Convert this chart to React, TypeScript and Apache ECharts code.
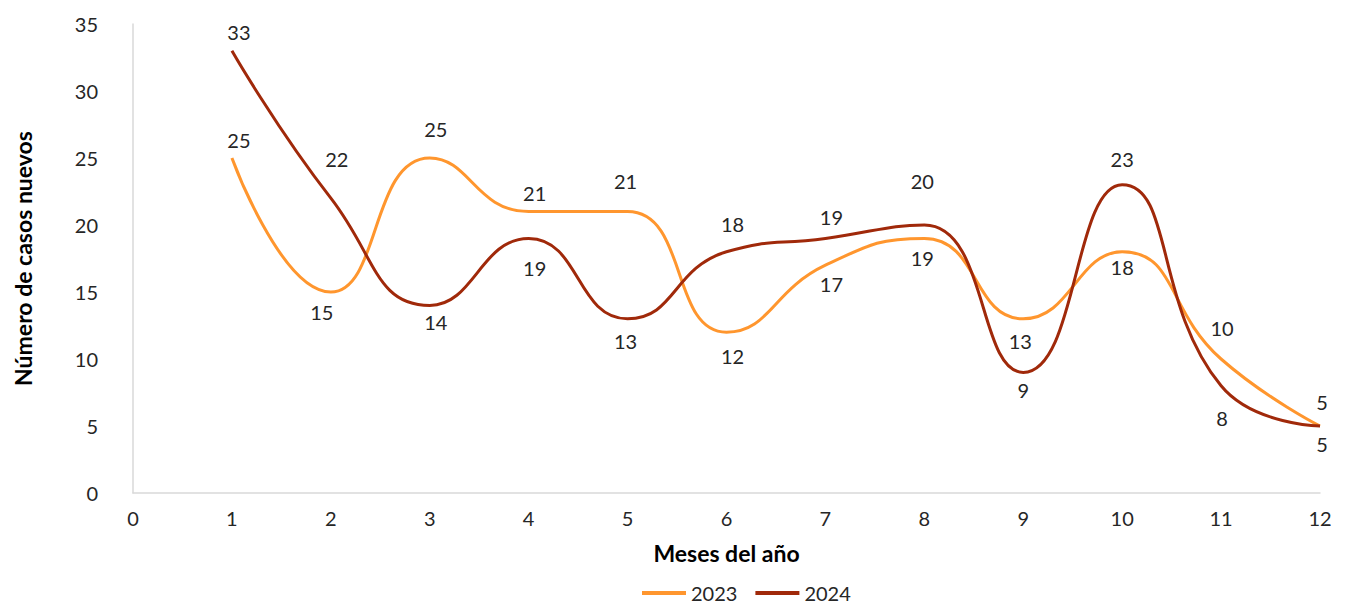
import React, { useEffect, useRef } from "react";
import * as echarts from "echarts";

const months = [1, 2, 3, 4, 5, 6, 7, 8, 9, 10, 11, 12];
const cases2023 = [25, 15, 25, 21, 21, 12, 17, 19, 13, 18, 10, 5];
const cases2024 = [33, 22, 14, 19, 13, 18, 19, 20, 9, 23, 8, 5];
const seriesNames = ["2023", "2024"];
const xAxisTitle = "Meses del año";
const yAxisTitle = "Número de casos nuevos";

// label offsets relative to each point (style only)
const offs2023 = [[7, -18], [-9, 20], [6, -29], [6, -19], [-2, -31], [6, 24], [6, 19], [-2, 20], [-3, 22], [0, 15], [1, -31], [2, -24]];
const offs2024 = [[7, -19], [6, -39], [6, 17], [6, 30], [-2, 22], [6, -28], [6, -21], [-2, -44], [0, 18], [0, -26], [1, 32], [2, 18]];

const FONT = "Lato, 'Noto Sans', sans-serif";

export default function App() {
  const ref = useRef<HTMLDivElement>(null);
  useEffect(() => {
    if (!ref.current) return;
    const chart = echarts.init(ref.current, undefined, { renderer: "svg" });
    const mk = (vals: number[], offs: number[][]) =>
      vals.map((v, i) => ({
        value: [months[i], v],
        label: { offset: offs[i] },
      }));
    const labelStyle = {
      show: true,
      position: "inside",
      color: "#262626",
      fontSize: 20,
      fontFamily: FONT,
      formatter: (p: any) => String(p.value[1]),
    };
    chart.setOption({
      animation: false,
      grid: { left: 125, right: 26, top: 16, bottom: 114, outerBoundsMode: "none", containLabel: false },
      legend: {
        bottom: -1,
        left: 629,
        itemWidth: 44,
        itemHeight: 4,
        itemGap: 18,
        icon: "rect",
        textStyle: { fontSize: 20, color: "#262626", fontFamily: FONT },
        data: seriesNames,
      },
      xAxis: {
        type: "value",
        min: 0,
        max: 12,
        interval: 1,
        name: xAxisTitle,
        nameLocation: "middle",
        nameGap: 48,
        nameTextStyle: { fontSize: 23, fontWeight: "bold", color: "#000", fontFamily: FONT },
        axisLine: { lineStyle: { color: "#d9d9d9", width: 1.5 } },
        axisTick: { show: false },
        splitLine: { show: false },
        axisLabel: { fontSize: 20, color: "#262626", margin: 15, fontFamily: FONT },
      },
      yAxis: {
        type: "value",
        min: 0,
        max: 35,
        interval: 5,
        name: yAxisTitle,
        nameLocation: "middle",
        nameGap: 99,
        nameTextStyle: { fontSize: 23, fontWeight: "bold", color: "#000", fontFamily: FONT },
        axisLine: { show: true, lineStyle: { color: "#d9d9d9", width: 1.5 } },
        axisTick: { show: false },
        splitLine: { show: false },
        axisLabel: { fontSize: 20, color: "#262626", margin: 35, fontFamily: FONT },
      },
      series: [
        {
          name: seriesNames[0],
          type: "line",
          smooth: 0.5,
          symbol: "circle",
          symbolSize: 0,
          showSymbol: true,
          lineStyle: { color: "#FF962E", width: 3 },
          itemStyle: { color: "#FF962E" },
          label: labelStyle,
          data: mk(cases2023, offs2023),
          z: 2,
        },
        {
          name: seriesNames[1],
          type: "line",
          smooth: 0.5,
          symbol: "circle",
          symbolSize: 0,
          showSymbol: true,
          lineStyle: { color: "#A0290A", width: 3 },
          itemStyle: { color: "#A0290A" },
          label: labelStyle,
          data: mk(cases2024, offs2024),
          z: 3,
        },
      ],
    });
    return () => chart.dispose();
  }, []);
  return <div ref={ref} style={{ width: 1338, height: 599 }} />;
}
